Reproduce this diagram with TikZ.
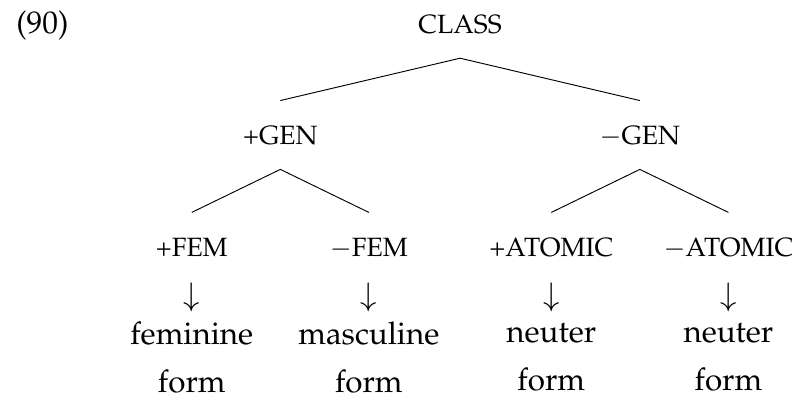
\documentclass[tikz,border=0pt]{standalone}
\usepackage{mathpazo}
\usepackage[T1]{fontenc}
\usetikzlibrary{positioning}

\begin{document}
\begin{tikzpicture}
[node distance=1.67cm,on grid,
every node/.style={font=\fontsize{13.4pt}{20.45pt}\selectfont},
feat/.style={font=\fontsize{11.3pt}{14pt}\selectfont,text height=0.28cm,text depth=0pt,inner xsep=0pt,inner ysep=0.37cm},
arrowsign/.style={inner sep=0pt},
outcome/.style={align=center,inner sep=0pt},
branch/.style={line width=0.4pt}]
\useasboundingbox (-6.91,0.357) rectangle (5.09,-5.62);
\node [feat] (class) {CLASS};
\node [anchor=base west] (exnum) at ([xshift=-6.79cm]class.base) {(90)};
\node [feat] (pgen) [below left=1.67cm and 2.7cm of class] {+GEN};
\node [feat] (mgen) [below right=1.67cm and 2.7cm of class] {$-$GEN};
\node [feat] (pfem) [below left=1.68cm and 1.33cm of pgen] {+FEM};
\node [feat] (mfem) [below right=1.68cm and 1.33cm of pgen] {$-$FEM};
\node [feat] (patom) [below left=1.68cm and 1.33cm of mgen] {+ATOMIC};
\node [feat] (matom) [below right=1.68cm and 1.33cm of mgen] {$-$ATOMIC};
\node [arrowsign] (d1) [below=0.765cm of pfem] {$\downarrow$};
\node [arrowsign] (d2) [below=0.765cm of mfem] {$\downarrow$};
\node [arrowsign] (d3) [below=0.765cm of patom] {$\downarrow$};
\node [arrowsign] (d4) [below=0.765cm of matom] {$\downarrow$};
\node [outcome] (fem) [below=0.9cm of d1] {feminine\\form};
\node [outcome] (masc) [below=0.9cm of d2] {masculine\\form};
\node [outcome] (neut1) [below=0.9cm of d3] {neuter\\form};
\node [outcome] (neut2) [below=0.9cm of d4] {neuter\\form};
\draw [branch] (pgen.north) -- (class.south) -- (mgen.north);
\draw [branch] (pfem.north) -- (pgen.south) -- (mfem.north);
\draw [branch] (patom.north) -- (mgen.south) -- (matom.north);
\end{tikzpicture}
\end{document}
